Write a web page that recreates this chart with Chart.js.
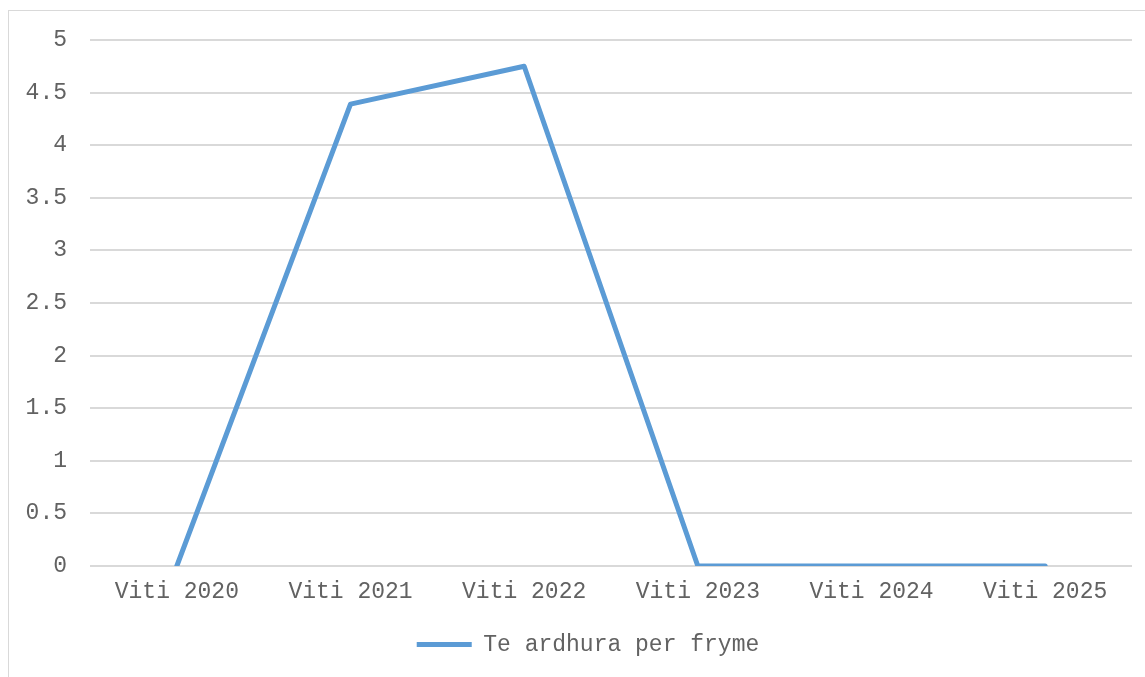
<!DOCTYPE html>
<html>
<head>
<meta charset="utf-8">
<script src="https://cdn.jsdelivr.net/npm/chart.js@4"></script>
<style>
    html, body {
        margin: 0;
        padding: 0;
        width: 1145px;
        height: 677px;
        overflow: hidden;
        background: #ffffff;
    }
    .frame {
        position: absolute;
        left: 8px;
        top: 10px;
        width: 1160px;
        height: 700px;
        border: 1px solid #d9d9d9;
    }
    .wrap {
        position: absolute;
        left: 0;
        top: 0;
        width: 1145px;
        height: 677px;
    }
</style>
</head>
<body>
<div class="frame"></div>
<div class="wrap"><canvas id="incomeChart"></canvas></div>
<script>
const years = ["Viti 2020", "Viti 2021", "Viti 2022", "Viti 2023", "Viti 2024", "Viti 2025"];
const incomeValues = [0, 4.39, 4.75, 0, 0, 0];
const seriesName = "Te ardhura per fryme";

const textColor = "#626262";
const gridColor = "#d9d9d9";
const lineColor = "#5b9bd5";
const monoFont = "'Liberation Mono', 'Courier New', monospace";

// the original legend sits a bit right of the canvas centre
const legendShift = {
    id: "legendShift",
    afterLayout(chart) {
        if (!chart.legend) return;
        chart.legend.left += 22;
        chart.legend.right += 22;
    }
};

function createIncomeChart() {
    const ctx = document.getElementById("incomeChart");

    new Chart(ctx, {
        type: "line",
        data: {
            labels: years,
            datasets: [
                {
                    label: seriesName,
                    data: incomeValues,
                    borderColor: lineColor,
                    backgroundColor: lineColor,
                    borderWidth: 5,
                    borderCapStyle: "round",
                    borderJoinStyle: "round",
                    fill: false,
                    tension: 0,
                    pointRadius: 0
                }
            ]
        },
        options: {
            responsive: true,
            maintainAspectRatio: false,
            animation: false,
            devicePixelRatio: 1,
            layout: {
                padding: { left: 0, right: 13, top: 40, bottom: 11 }
            },
            font: { family: monoFont, size: 23 },
            plugins: {
                tooltip: { enabled: false },
                legend: {
                    position: "bottom",
                    labels: {
                        color: textColor,
                        font: { family: monoFont, size: 23 },
                        usePointStyle: true,
                        pointStyle: "line",
                        pointStyleWidth: 55,
                        boxHeight: 5,
                        padding: 12
                    }
                }
            },
            scales: {
                x: {
                    offset: true,
                    grid: { display: false },
                    border: { display: false },
                    ticks: {
                        color: textColor,
                        font: { family: monoFont, size: 23 },
                        padding: 4,
                        maxRotation: 0
                    },
                    afterFit(scale) {
                        scale.height = 55;
                    }
                },
                y: {
                    min: 0,
                    max: 5,
                    grid: {
                        color: gridColor,
                        lineWidth: 2,
                        drawTicks: false
                    },
                    border: { display: false },
                    ticks: {
                        stepSize: 0.5,
                        color: textColor,
                        font: { family: monoFont, size: 23 },
                        padding: 23,
                        callback: value => String(Number(value))
                    },
                    afterFit(scale) {
                        scale.width = 90;
                    }
                }
            }
        },
        plugins: [legendShift]
    });
}

createIncomeChart();
</script>
</body>
</html>
